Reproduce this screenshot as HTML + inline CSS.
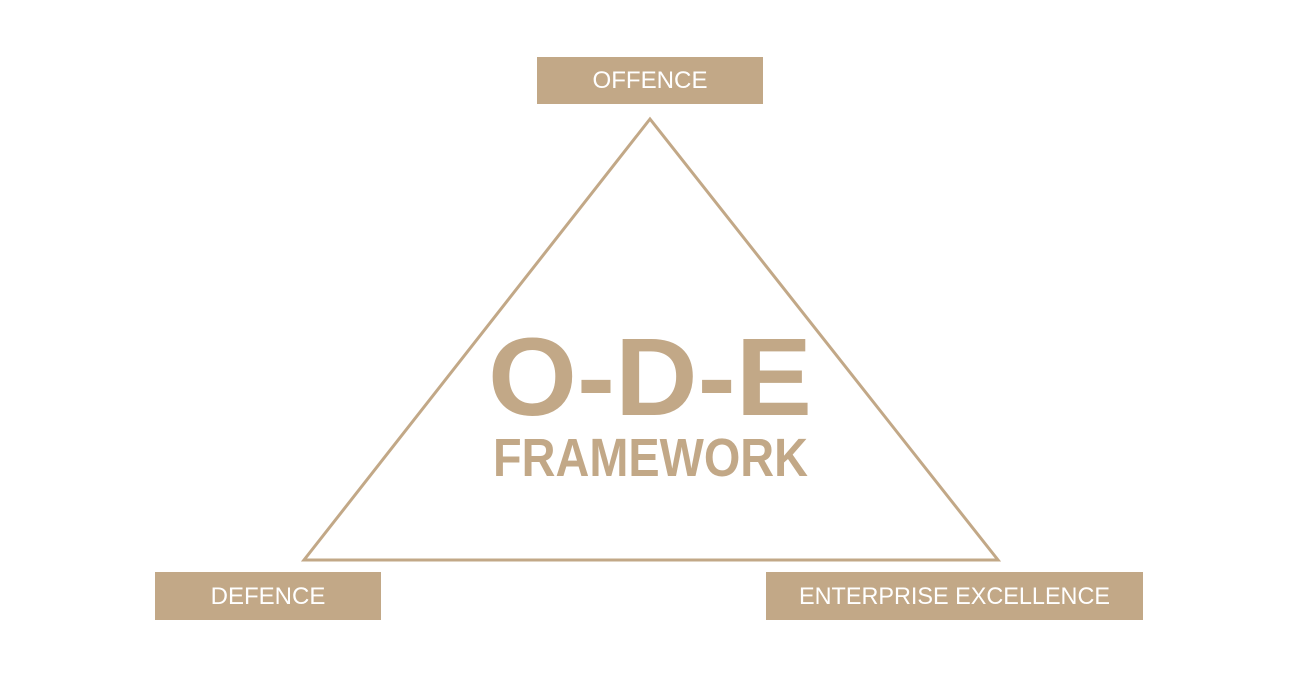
<!DOCTYPE html>
<html><head><meta charset="utf-8"><style>
html,body{margin:0;padding:0;background:#fff;}
svg{display:block;}
</style></head><body>
<svg width="1300" height="677" viewBox="0 0 1300 677" xmlns="http://www.w3.org/2000/svg">
<rect width="1300" height="677" fill="#fff"/>
<polygon points="650,119 304,560 998,560" fill="none" stroke="#c2a887" stroke-width="3"/>
<rect x="537" y="57" width="226" height="47" fill="#c2a887"/>
<rect x="155" y="572" width="226" height="48" fill="#c2a887"/>
<rect x="766" y="572" width="377" height="48" fill="#c2a887"/>
<g font-family="Liberation Sans, sans-serif" fill="#fff" font-size="24" text-anchor="middle">
<text x="650" y="88" textLength="115" lengthAdjust="spacingAndGlyphs">OFFENCE</text>
<text x="268" y="604">DEFENCE</text>
<text x="954.5" y="604" textLength="311" lengthAdjust="spacingAndGlyphs">ENTERPRISE EXCELLENCE</text>
</g>
<g font-family="Liberation Sans, sans-serif" fill="#c2a887" font-weight="bold">
<text x="488" y="415" font-size="110" textLength="324" lengthAdjust="spacingAndGlyphs">O-D-E</text>
<text x="493" y="476" font-size="54" textLength="315" lengthAdjust="spacingAndGlyphs">FRAMEWORK</text>
</g>
</svg>
</body></html>
